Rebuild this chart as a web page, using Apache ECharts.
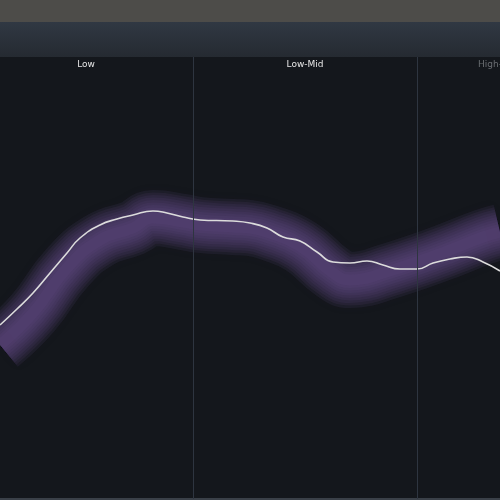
<!DOCTYPE html>
<html>
<head>
<meta charset="utf-8">
<style>
  html, body { margin: 0; padding: 0; background: #14171c; }
  #chart { width: 500px; height: 500px; }
</style>
<script src="https://cdn.jsdelivr.net/npm/echarts@6/dist/echarts.min.js"></script>
</head>
<body>
<div id="chart"></div>
<script>
// measured response (white line), x position vs level
const curveX = [0, 17, 33, 50, 67, 80, 100, 117, 133, 153, 167, 183, 200, 233, 250, 267, 283, 300, 317, 333, 350, 367, 383, 400, 417, 433, 450, 467, 483, 500]
const curveY = [174, 190, 206, 226, 246, 261, 274, 280, 284, 288, 286, 282, 279, 278, 276, 271, 262, 258, 247, 237, 236, 238, 234, 230, 230, 236, 240, 242, 237, 228]

// purple target band centre
const bandX = [0, 33, 67, 100, 133, 153, 183, 200, 233, 250, 267, 300, 333, 350, 367, 383, 417, 450, 483, 500]
const bandY = [154, 186, 231, 259, 271, 281, 277, 274, 272, 271, 267, 253, 226, 219, 221, 226, 237, 249, 262, 267]

// frequency bands
const bandNames = ['Low', 'Low-Mid', 'High-Mid']
const bandCenters = [86, 305, 498]
const bandEdges = [193, 417]

// soft glow layers for the band (widths in px)
const glowWidths = [56, 51, 46, 41, 36, 31, 26, 21, 16, 11]

const chart = echarts.init(document.getElementById('chart'))

const zip = (xs, ys) => xs.map((x, i) => [x, ys[i]])

let series = []
glowWidths.forEach((w, i) => {
  series.push({
    name: 'target',
    type: 'line',
    smooth: true,
    symbol: 'none',
    data: zip(bandX, bandY),
    lineStyle: {
      width: w,
      color: 'rgba(112, 80, 148, 0.11)',
      shadowBlur: i === 0 ? 12 : 0,
      shadowColor: 'rgba(100, 70, 135, 0.3)'
    },
    z: 2
  })
})
series[0].markLine = {
  silent: true,
  symbol: 'none',
  label: { show: false },
  lineStyle: { color: '#2e3540', width: 1, type: 'solid' },
  data: bandEdges.map(x => ({ xAxis: x }))
}
series.push({
  name: 'response',
  type: 'line',
  smooth: true,
  symbol: 'none',
  data: zip(curveX, curveY),
  lineStyle: { width: 1.6, color: '#dcdcdc' },
  z: 3
})

chart.setOption({
  backgroundColor: '#14171c',
  animation: false,
  grid: { left: 0, right: 0, top: 57, bottom: 1, containLabel: false, outerBoundsMode: 'none' },
  xAxis: [{
    type: 'value',
    min: 0,
    max: 500,
    show: false
  }, {
    type: 'value',
    position: 'top',
    min: 0,
    max: 500,
    axisLine: { show: false },
    axisTick: { show: false },
    splitLine: { show: false },
    axisLabel: {
      inside: true,
      margin: 3,
      customValues: bandCenters,
      fontSize: 9,
      fontFamily: 'DejaVu Sans',
      color: function (value, index) {
        return value > 450 ? '#6a6d72' : '#e6e6e6'
      },
      formatter: function (value) {
        return bandNames[bandCenters.indexOf(value)] || ''
      },
      showMinLabel: true,
      showMaxLabel: true,
      hideOverlap: false
    }
  }],
  yAxis: {
    type: 'value',
    min: 0,
    max: 442,
    show: false
  },
  graphic: [
    { type: 'rect', shape: { x: 0, y: 0, width: 500, height: 22 }, style: { fill: '#4d4c49' } },
    {
      type: 'rect', shape: { x: 0, y: 22, width: 500, height: 35 },
      style: {
        fill: new echarts.graphic.LinearGradient(0, 0, 0, 1, [
          { offset: 0, color: '#303843' },
          { offset: 1, color: '#252a31' }
        ])
      }
    },
    { type: 'rect', shape: { x: 0, y: 498, width: 500, height: 2 }, style: { fill: '#3a4048' } }
  ],
  series: series
})
</script>
</body>
</html>
